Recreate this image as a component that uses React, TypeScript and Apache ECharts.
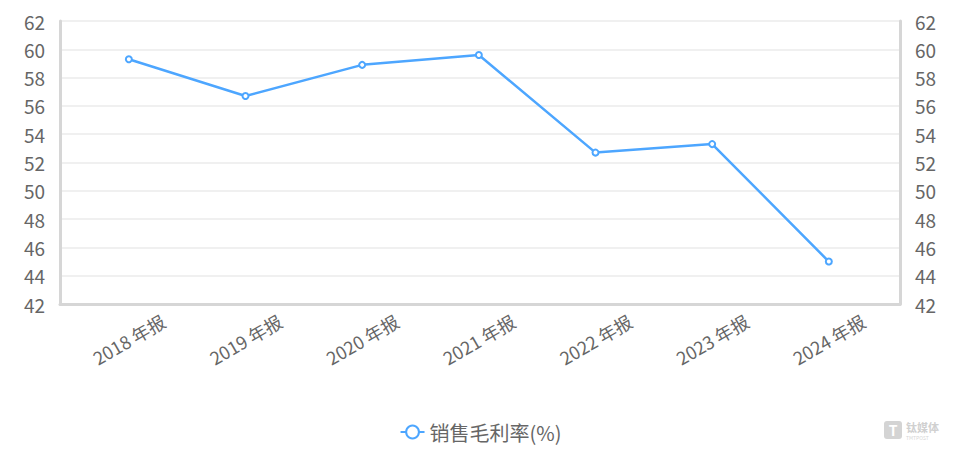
import React, { useEffect, useRef } from "react";
import * as echarts from "echarts";

const categories = ["2018 年报", "2019 年报", "2020 年报", "2021 年报", "2022 年报", "2023 年报", "2024 年报"];
const grossMargin = [59.3, 56.7, 58.9, 59.6, 52.7, 53.3, 45.0];
const seriesName = "销售毛利率(%)";
const yMin = 42;
const yMax = 62;
const yStep = 2;

const FONT = '"Noto Sans CJK SC", "Noto Sans", sans-serif';

export default function App() {
  const ref = useRef<HTMLDivElement>(null);
  useEffect(() => {
    document.body.style.margin = "0";
    const chart = echarts.init(ref.current!, null, { renderer: "svg" });
    const idx = categories.map((_, i) => i);
    chart.setOption({
      animation: false,
      backgroundColor: "#ffffff",
      textStyle: { fontFamily: FONT },
      grid: { left: 60, right: 61, top: 21, bottom: 153, containLabel: false },
      legend: {
        data: [seriesName],
        bottom: 10,
        left: "center",
        itemWidth: 24,
        itemHeight: 16,
        itemGap: 10,
        textStyle: { fontSize: 20, color: "#666", fontFamily: FONT },
      },
      xAxis: {
        type: "value",
        min: -0.59,
        max: 6.61,
        axisLine: { show: true, onZero: false, lineStyle: { color: "#d6d6d6", width: 3 } },
        axisTick: { show: false },
        splitLine: { show: false },
        axisLabel: {
          customValues: idx,
          formatter: (v: number) => categories[Math.round(v)] ?? "",
          rotate: 30,
          fontSize: 18,
          color: "#666",
          margin: 35,
          align: "center",
          verticalAlign: "middle",
          fontFamily: FONT,
        },
      },
      yAxis: [
        {
          type: "value",
          min: yMin,
          max: yMax,
          interval: yStep,
          position: "left",
          axisLine: { show: true, onZero: false, lineStyle: { color: "#d6d6d6", width: 3 } },
          axisTick: { show: false },
          splitLine: { show: true, lineStyle: { color: "#ebebeb", width: 1.5 } },
          axisLabel: { fontSize: 19, color: "#666", margin: 15, fontFamily: FONT },
        },
        {
          type: "value",
          min: yMin,
          max: yMax,
          interval: yStep,
          position: "right",
          axisLine: { show: true, onZero: false, lineStyle: { color: "#d6d6d6", width: 3 } },
          axisTick: { show: false },
          splitLine: { show: false },
          axisLabel: { fontSize: 19, color: "#666", margin: 15, fontFamily: FONT },
        },
      ],
      series: [
        {
          name: seriesName,
          type: "line",
          yAxisIndex: 0,
          data: grossMargin.map((v, i) => [i, v]),
          symbol: "emptyCircle",
          symbolSize: 6,
          lineStyle: { color: "#4da6ff", width: 2.5 },
          itemStyle: { color: "#4da6ff", borderWidth: 1.5 },
        },
      ],
      graphic: [
        {
          type: "group",
          left: 884,
          top: 421,
          children: [
            { type: "rect", shape: { x: 0, y: 0, width: 18, height: 18, r: 3 }, style: { fill: "#d4d4d4" } },
            { type: "text", x: 9, y: 9, style: { text: "T", fill: "#fff", fontSize: 14, fontWeight: "bold", align: "center", verticalAlign: "middle", fontFamily: FONT } },
            { type: "text", x: 22, y: 0, style: { text: "钛媒体", fill: "#d0d0d0", fontSize: 11, fontWeight: "bold", verticalAlign: "top", fontFamily: FONT } },
            { type: "text", x: 22, y: 14, style: { text: "TMTPOST", fill: "#d6d6d6", fontSize: 5, verticalAlign: "top", fontFamily: FONT } },
          ],
        },
      ],
    });
    return () => chart.dispose();
  }, []);
  return <div ref={ref} style={{ width: 961, height: 457 }} />;
}
